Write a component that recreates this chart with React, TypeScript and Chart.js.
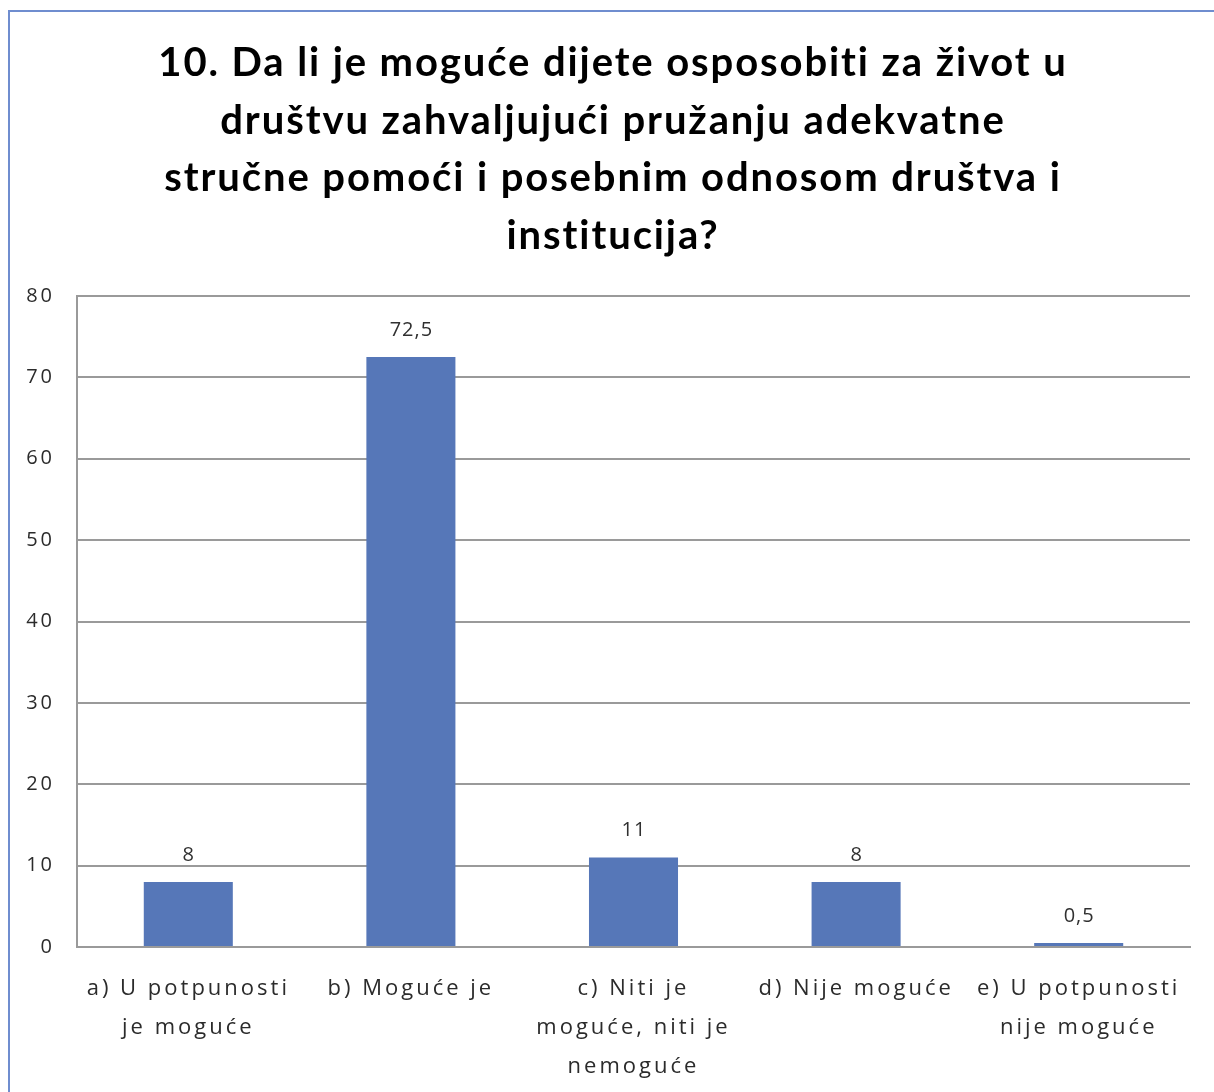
import React, { useEffect, useRef } from 'react';
import { Chart, registerables } from 'chart.js';

Chart.register(...registerables);

const titleLines = [
  '10. Da li je moguće dijete osposobiti za život u',
  'društvu zahvaljujući pružanju adekvatne',
  'stručne pomoći i posebnim odnosom društva i',
  'institucija?',
];
const categories = [
  ['a) U potpunosti', 'je moguće'],
  ['b) Moguće je'],
  ['c) Niti je', 'moguće, niti je', 'nemoguće'],
  ['d) Nije moguće'],
  ['e) U potpunosti', 'nije moguće'],
];
const values = [8, 72.5, 11, 8, 0.5];
const valueLabels = ['8', '72,5', '11', '8', '0,5'];
const yMin = 0;
const yMax = 80;
const yStep = 10;

const W = 1214;
const H = 1092;

const framePlugin = {
  id: 'frame',
  beforeDraw(chart: any) {
    const ctx = chart.ctx;
    ctx.save();
    ctx.fillStyle = '#ffffff';
    ctx.fillRect(0, 0, chart.width, chart.height);
    ctx.strokeStyle = '#6f8dcf';
    ctx.lineWidth = 2;
    ctx.beginPath();
    ctx.moveTo(9, chart.height + 5);
    ctx.lineTo(9, 11);
    ctx.lineTo(chart.width + 5, 11);
    ctx.stroke();
    ctx.restore();
    ctx.letterSpacing = '3px';
  },
  afterDraw(chart: any) {
    chart.ctx.letterSpacing = '0px';
  },
};

const valueLabelPlugin = {
  id: 'valueLabels',
  afterDatasetsDraw(chart: any) {
    const ctx = chart.ctx;
    const meta = chart.getDatasetMeta(0);
    ctx.save();
    ctx.letterSpacing = '1px';
    ctx.font = '20px "Open Sans"';
    ctx.fillStyle = '#303030';
    ctx.textAlign = 'center';
    ctx.textBaseline = 'middle';
    meta.data.forEach((bar: any, i: number) => {
      ctx.fillText(valueLabels[i], bar.x + 0.5, bar.y - 27);
    });
    ctx.restore();
  },
};

export default function App() {
  const ref = useRef<HTMLCanvasElement | null>(null);
  useEffect(() => {
    if (!ref.current) return;
    const chart = new Chart(ref.current, {
      type: 'bar',
      data: {
        labels: categories,
        datasets: [
          {
            data: values,
            backgroundColor: '#5677b8',
            borderWidth: 0,
            categoryPercentage: 1,
            barPercentage: 0.4,
          },
        ],
      },
      options: {
        responsive: false,
        animation: false,
        devicePixelRatio: 1,
        layout: { padding: { left: 0, right: 24, top: 296, bottom: 0 } },
        plugins: {
          legend: { display: false },
          tooltip: { enabled: false },
          title: { display: false },
        },
        scales: {
          x: {
            afterFit(scale: any) {
              scale.height = 145;
            },
            grid: { display: false, drawTicks: false },
            border: { display: true, color: '#9a9a9a', width: 2 },
            ticks: {
              color: '#2b2b2b',
              font: { family: 'Open Sans', size: 22, lineHeight: 1.773 },
              padding: 22,
              maxRotation: 0,
              autoSkip: false,
            },
          },
          y: {
            min: yMin,
            max: yMax,
            afterFit(scale: any) {
              scale.width = 77;
            },
            grid: { color: '#9a9a9a', lineWidth: 2, drawTicks: false },
            border: { display: true, color: '#9a9a9a', width: 2 },
            ticks: {
              stepSize: yStep,
              color: '#2b2b2b',
              font: { family: 'Open Sans', size: 20 },
              padding: 22,
            },
          },
        },
      },
      plugins: [framePlugin, valueLabelPlugin],
    });
    return () => chart.destroy();
  }, []);
  return (
    <div style={{ position: 'fixed', left: 0, top: 0, width: W, height: H, overflow: 'hidden' }}>
      <canvas
        ref={ref}
        width={W}
        height={H}
        style={{ position: 'absolute', left: 0, top: 0, width: W, height: H, display: 'block' }}
      />
      <div
        style={{
          position: 'absolute',
          left: 0,
          top: 33,
          width: 1226,
          textAlign: 'center',
          fontFamily: 'Lato',
          fontWeight: 'bold',
          fontSize: 40,
          lineHeight: '57.5px',
          letterSpacing: '1.9px',
          color: '#000000',
        }}
      >
        {titleLines.map((line, i) => (
          <div key={i}>{line}</div>
        ))}
      </div>
    </div>
  );
}
